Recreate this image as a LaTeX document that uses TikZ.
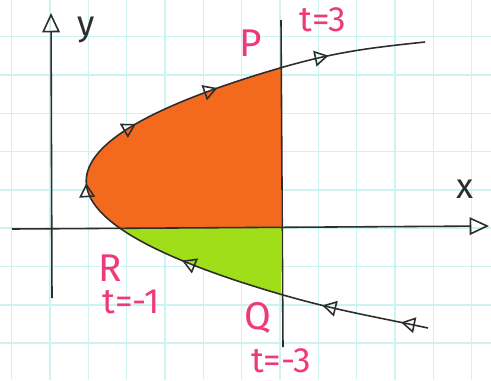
\documentclass[tikz,border=0pt]{standalone}
\usepackage{fontspec}
\newfontfamily\hand{Fira Sans}
\usetikzlibrary{arrows.meta,decorations.markings}
\definecolor{ink}{RGB}{45,45,45}
\definecolor{pen}{RGB}{238,58,120}
\definecolor{orangefill}{RGB}{243,106,30}
\definecolor{greenfill}{RGB}{160,222,26}
\definecolor{paperline}{RGB}{204,242,242}
\begin{document}
\begin{tikzpicture}[x=0.02cm, y=-0.02cm, line width=0.9pt,
  every node/.style={font=\hand\fontsize{20}{20}\selectfont},
  big/.style={font=\hand\fontsize{22}{22}\selectfont},
  axistip/.style={-{Triangle[open,length=11pt,width=10pt]}},
  flowmark/.style={postaction={decorate,decoration={markings,
      mark=at position #1 with {\arrow{Triangle[open,length=8pt,width=9pt]}}}}}]
\useasboundingbox[fill=white] (0,0) rectangle (491,380);
% graph paper
\foreach \k in {0,...,12} \draw[paperline] ({11.7+38.33*\k},0) -- ({11.7+38.33*\k},380);
\foreach \k in {1,...,9} \draw[paperline] (0,{-1.7+38.33*\k}) -- (491,{-1.7+38.33*\k});
\coordinate (P) at (281,67.7);
\coordinate (Q) at (281,294.4);
\coordinate (R) at (119.6,228);
\coordinate (F) at (281,228);
% regions
\fill[orangefill] (R) -- plot[domain=228:67.7,samples=40,variable=\t] ({86.2+0.015164*(\t-181.07)^2},\t) -- (F) -- cycle;
\fill[greenfill] (R) -- plot[domain=228:294.4,samples=30,variable=\t] ({86.2+0.015164*(\t-181.07)^2},\t) -- (F) -- cycle;
% axes
\coordinate (x0) at (12,229); \coordinate (x1) at (489,226);
\coordinate (y0) at (52,298); \coordinate (y1) at (51,13);
\draw[ink,axistip] (x0) -- (x1);
\draw[ink,axistip] (y0) -- (y1);
\coordinate (v0) at (281,20); \coordinate (v1) at (283,347);
\draw[ink] (v0) -- (v1);
% curve
\coordinate (c0) at (428,328); \coordinate (c1) at (425,42);
\draw[ink,flowmark/.list={0.036,0.141,0.333,0.5,0.606,0.722,0.873}]
  (c0) to[out=168,in=-16] (Q) .. controls (21.3,218.8) and (21.3,143.3) .. (P) to[out=16,in=186] (c1);
% labels
\node[text=ink] (ylbl) at (86,30) {y};
\node[text=ink] (xlbl) at (465,189) {x};
\node[big,text=pen] (Plbl) at (251,43) {P};
\node[big,text=pen] (Qlbl) at (258,318) {Q};
\node[big,text=pen] (Rlbl) at (110,268) {R};
\node[text=pen] (tP) at (323,20) {t=3};
\node[text=pen] (tR) at (131,302) {t=-1};
\node[text=pen] (tQ) at (281,361) {t=-3};
\end{tikzpicture}
\end{document}
